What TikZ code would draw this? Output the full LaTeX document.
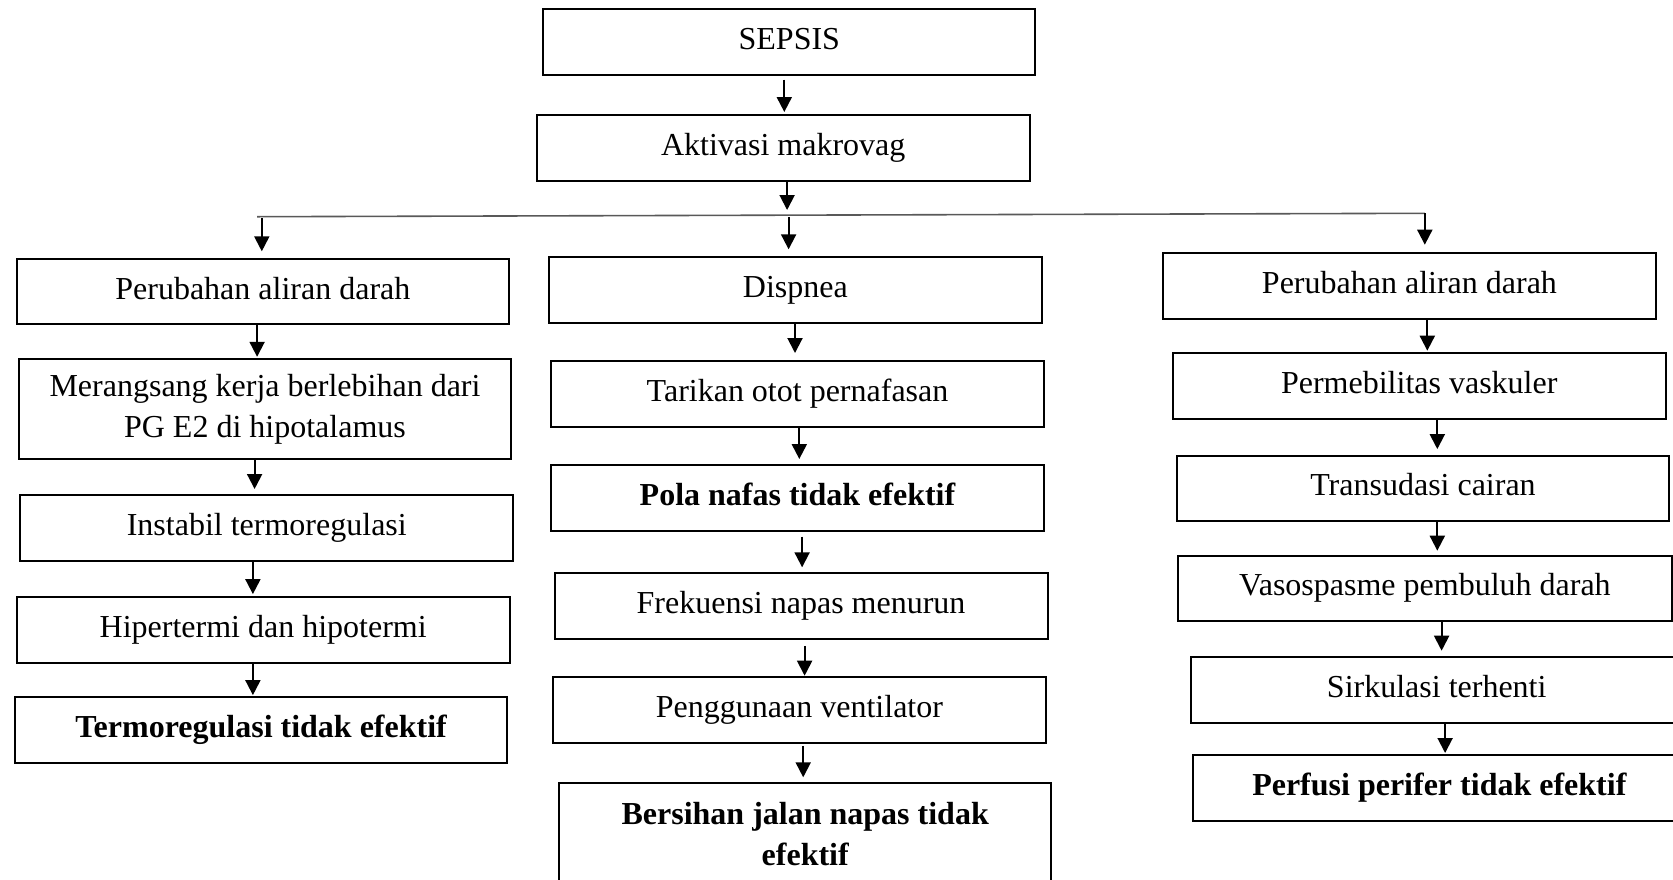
\documentclass[tikz,border=0pt]{standalone}
\usepackage{fontspec}
\setmainfont{Liberation Serif}
\usetikzlibrary{arrows.meta}
\tikzset{
  box/.style={draw, line width=1pt, inner sep=0pt, align=center,
    font=\fontsize{16pt}{20.3pt}\selectfont},
  one/.style={text height=11.05pt, text depth=3.55pt},
  bold/.style={font=\fontsize{16pt}{20.3pt}\selectfont\bfseries},
  arrow/.style={line width=1pt, -{Triangle[length=7.5pt,width=7.5pt]}},
  splitline/.style={line width=0.8pt, draw=black!65},
}
\newcommand\pbox[7][]{\node[box,#1,minimum width={(#5-#3)*0.5pt},minimum height={(#6-#4)*0.5pt}] (#2) at ({(#3+#5)/2},{(#4+#6)/2}) {#7};}
\newcommand\parrow[5]{\draw[arrow, shorten <=#4, shorten >=#5] (#1.south -| #3) -- (#2.north -| #3);}
\begin{document}
\begin{tikzpicture}[x=0.5pt,y=-0.5pt]
\useasboundingbox (0,0) rectangle (1673,879);
\clip (0,0) rectangle (1673,879);
% top
\pbox[one]{sepsis}{543.2}{9}{1035.4}{74.7}{SEPSIS}
\pbox[one]{akt}{536.8}{115}{1029.6}{181}{Aktivasi makrovag}
% left column
\pbox[one]{perL}{16.8}{258.7}{508.9}{324.3}{Perubahan aliran darah}
\pbox{mer}{18.6}{359}{511.4}{459}{Merangsang kerja berlebihan dari\\PG E2 di hipotalamus}
\pbox[one]{ins}{20.4}{495}{513.2}{561}{Instabil termoregulasi}
\pbox[one]{hip}{16.8}{596.7}{509.6}{663.3}{Hipertermi dan hipotermi}
\pbox[one,bold]{ter}{15}{697.3}{507.1}{763.3}{Termoregulasi tidak efektif}
% middle column
\pbox[one]{dis}{548.6}{257.3}{1042.1}{322.7}{Dispnea}
\pbox[one]{tar}{551.1}{361}{1043.9}{426.7}{Tarikan otot pernafasan}
\pbox[one,bold]{pola}{551.1}{465}{1043.9}{531}{Pola nafas tidak efektif}
\pbox[one]{frek}{554.6}{573.3}{1047.5}{639.3}{Frekuensi napas menurun}
\pbox[one]{peng}{553.2}{677.3}{1045.7}{743.3}{Penggunaan ventilator}
\pbox[bold]{ber}{559}{782.7}{1051.4}{885}{Bersihan jalan napas tidak\\efektif}
% right column
\pbox[one]{perR}{1163}{252.7}{1655.9}{319}{Perubahan aliran darah}
\pbox[one]{perm}{1173}{353.3}{1665.5}{419}{Permebilitas vaskuler}
\pbox[one]{tran}{1176.6}{455.7}{1669.4}{521}{Transudasi cairan}
\pbox[one]{vaso}{1178.4}{555.7}{1671.5}{621}{Vasospasme pembuluh darah}
\pbox[one]{sirk}{1190.9}{657.3}{1682.5}{723.3}{Sirkulasi terhenti}
\pbox[one,bold]{perf}{1192.6}{755}{1686}{820.7}{Perfusi perifer tidak efektif}
% x positions of the arrows
\coordinate (xa) at (784.3,0);
\coordinate (xb) at (787.1,0);
\coordinate (xl1) at (257.1,0);
\coordinate (xl2) at (254.6,0);
\coordinate (xl3) at (252.9,0);
\coordinate (xm1) at (795,0);
\coordinate (xm2) at (799.3,0);
\coordinate (xm3) at (802.1,0);
\coordinate (xm4) at (804.6,0);
\coordinate (xm5) at (803.2,0);
\coordinate (xr1) at (1427.3,0);
\coordinate (xr2) at (1437.3,0);
\coordinate (xr3) at (1441.6,0);
\coordinate (xr4) at (1445.1,0);
% split line
\coordinate (hl) at (257.1,216.7);
\coordinate (hr) at (1424.8,213.3);
\coordinate (j0) at (787.1,210);
\coordinate (sL) at (261.8,218);
\coordinate (sM) at (788.6,217);
\coordinate (sR) at (1424.8,213.3);
\draw[arrow, shorten <=2pt, shorten >=1pt] (sepsis.south -| xa) -- (akt.north -| xa);
\draw[arrow] (akt.south -| xb) -- (j0);
\draw[splitline] (hl) -- (hr);
\draw[arrow, shorten >=3.2pt] (sL) -- (sL |- perL.north);
\draw[arrow, shorten >=3.5pt] (sM) -- (sM |- dis.north);
\draw[arrow, shorten >=3.5pt] (sR) -- (sR |- perR.north);
% left column arrows
\parrow{perL}{mer}{xl1}{0pt}{0.6pt}
\parrow{mer}{ins}{xl2}{0pt}{2.5pt}
\parrow{ins}{hip}{xl3}{0pt}{0.8pt}
\parrow{hip}{ter}{xl3}{0pt}{0.6pt}
% middle column arrows
\parrow{dis}{tar}{xm1}{0pt}{3.5pt}
\parrow{tar}{pola}{xm2}{0pt}{2.5pt}
\parrow{pola}{frek}{xm3}{2.3pt}{2.5pt}
\parrow{frek}{peng}{xm4}{2.8pt}{0.3pt}
\parrow{peng}{ber}{xm5}{0.8pt}{2.2pt}
% right column arrows
\parrow{perR}{perm}{xr1}{0pt}{0.8pt}
\parrow{perm}{tran}{xr2}{0pt}{2.8pt}
\parrow{tran}{vaso}{xr2}{0pt}{2pt}
\parrow{vaso}{sirk}{xr3}{0pt}{2.8pt}
\parrow{sirk}{perf}{xr4}{0pt}{0.5pt}
\end{tikzpicture}
\end{document}
